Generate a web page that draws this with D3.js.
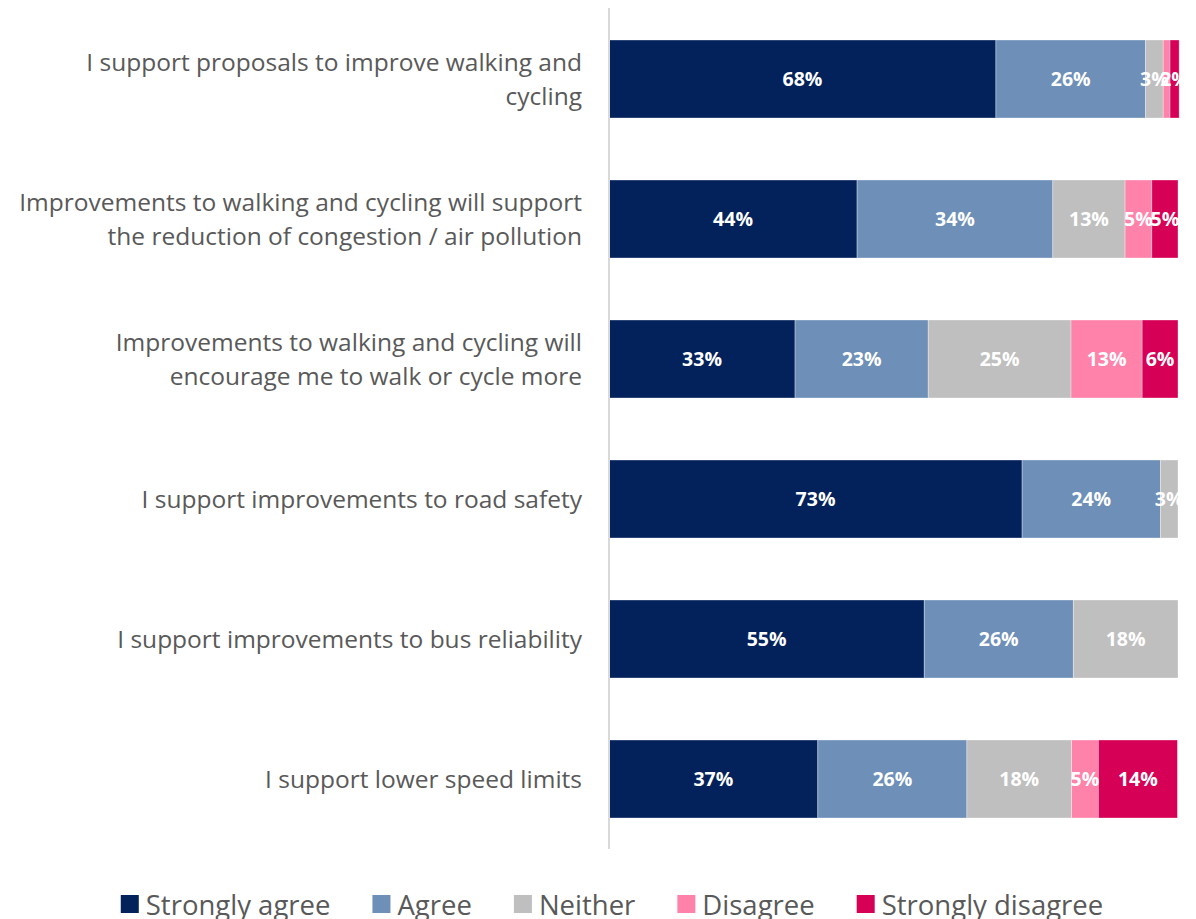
<!DOCTYPE html>
<html>
<head>
<meta charset="utf-8">
<script src="https://cdn.jsdelivr.net/npm/d3@7"></script>
<style>
  body { margin: 0; background: #fff; }
  svg { display: block; font-family: "Open Sans", "Noto Sans", sans-serif; }
</style>
</head>
<body>
<svg id="chart" width="1196" height="919"></svg>
<script>
// ---------- data ----------
const statements = [
  ["I support proposals to improve walking and", "cycling"],
  ["Improvements to walking and cycling will support", "the reduction of congestion / air pollution"],
  ["Improvements to walking and cycling will", "encourage me to walk or cycle more"],
  ["I support improvements to road safety"],
  ["I support improvements to bus reliability"],
  ["I support lower speed limits"]
];
const responses = ["Strongly agree", "Agree", "Neither", "Disagree", "Strongly disagree"];
const strongAgree    = [68.0, 43.6, 32.7, 72.6, 55.4, 36.7];
const agree          = [26.3, 34.4, 23.4, 24.3, 26.2, 26.2];
const neither        = [ 3.1, 12.7, 25.1,  3.1, 18.4, 18.4];
const disagree       = [ 1.2,  4.7, 12.5,  0.0,  0.0,  4.7];
const strongDisagree = [ 1.6,  4.6,  6.3,  0.0,  0.0, 13.9];
const colours = ["#03215b", "#6d8fb8", "#bfbfbf", "#ff82ab", "#d60056"];
const xDomain = [0, 100];

// ---------- layout ----------
const svg = d3.select("#chart");
const plotLeft = 609, plotRight = 1178, plotTop = 40, plotBottom = 818;

const rows = statements.map((s, i) => ({
  id: i,
  lines: s,
  vals: [strongAgree[i], agree[i], neither[i], disagree[i], strongDisagree[i]]
}));

const x = d3.scaleLinear().domain(xDomain).range([plotLeft, plotRight]);

// bars 78px tall on a 140px step
const y = d3.scaleBand()
  .domain(rows.map(r => r.id))
  .range([plotTop, plotBottom])
  .paddingInner(62 / 140)
  .paddingOuter(0);

const stack = d3.stack().keys(d3.range(responses.length)).value((d, k) => d.vals[k]);
const series = stack(rows);

// ---------- bars ----------
const g = svg.append("g");
series.forEach((s, k) => {
  g.selectAll(".seg" + k)
    .data(s.filter(d => d[1] - d[0] > 0))
    .enter()
    .append("rect")
    .attr("x", d => x(d[0]))
    .attr("y", d => y(d.data.id))
    .attr("width", d => x(d[1]) - x(d[0]))
    .attr("height", y.bandwidth())
    .attr("fill", colours[k])
    .attr("stroke", "#ffffff")
    .attr("stroke-opacity", 0.45)
    .attr("stroke-width", 0.75);
});

// ---------- data labels ----------
series.forEach((s, k) => {
  g.selectAll(".lab" + k)
    .data(s.filter(d => d[1] - d[0] >= 1.5))
    .enter()
    .append("text")
    .attr("x", d => (x(d[0]) + x(d[1])) / 2)
    .attr("y", d => y(d.data.id) + y.bandwidth() / 2)
    .attr("dy", "0.36em")
    .attr("text-anchor", "middle")
    .attr("fill", "#ffffff")
    .attr("font-size", 19.5)
    .attr("font-weight", "bold")
    .text(d => Math.round(d[1] - d[0]) + "%");
});

// ---------- axis line ----------
svg.append("line")
  .attr("x1", plotLeft).attr("x2", plotLeft)
  .attr("y1", 8).attr("y2", 849)
  .attr("stroke", "#d9d9d9")
  .attr("stroke-width", 2);

// ---------- category labels ----------
const cat = svg.append("g");
rows.forEach(r => {
  const cy = y(r.id) + y.bandwidth() / 2;
  const n = r.lines.length;
  r.lines.forEach((line, j) => {
    cat.append("text")
      .attr("x", 582)
      .attr("y", cy + (j - (n - 1) / 2) * 34)
      .attr("dy", "0.35em")
      .attr("text-anchor", "end")
      .attr("fill", "#595959")
      .attr("font-size", 24.5)
      .text(line);
  });
});

// ---------- legend ----------
const legend = svg.append("g");
let lx = 0;
responses.forEach((name, k) => {
  const item = legend.append("g").attr("transform", `translate(${lx},0)`);
  item.append("rect")
    .attr("x", 0).attr("y", -10)
    .attr("width", 18).attr("height", 18)
    .attr("fill", colours[k]);
  const t = item.append("text")
    .attr("x", 25).attr("y", 0)
    .attr("dy", "0.35em")
    .attr("fill", "#595959")
    .attr("font-size", 27.5)
    .text(name);
  lx += 25 + t.node().getComputedTextLength() + 42;
});
const legendWidth = lx - 42;
legend.attr("transform", `translate(${612 - legendWidth / 2},905)`);
</script>
</body>
</html>
